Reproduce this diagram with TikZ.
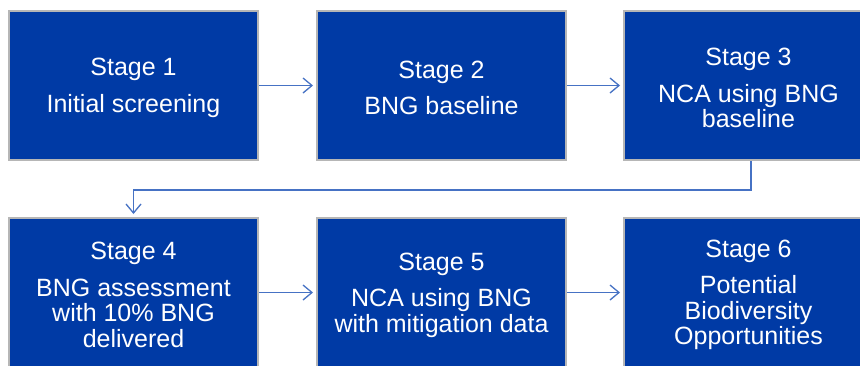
\documentclass[tikz,border=0pt]{standalone}
\usepackage{fontspec}
\setmainfont{Liberation Sans}
\usetikzlibrary{arrows.meta}
\definecolor{stageblue}{RGB}{0,58,165}
\definecolor{stageedge}{RGB}{182,182,182}
\definecolor{flowline}{RGB}{70,114,196}
% heading line of a stage box, with a strut that sets the text a touch lower
\newcommand{\stagehead}[1]{\rule{0pt}{22.5pt}Stage #1\\[11pt]}
\tikzset{
  stagebox/.style={draw=stageedge, line width=2pt, fill=stageblue,
    minimum width=249pt, minimum height=149pt, inner sep=0pt,
    text=white, align=center,
    font=\fontsize{25pt}{25.5pt}\selectfont},
  flow/.style={draw=flowline, line width=1.3pt,
    -{Straight Barb[length=9pt,width=15pt,line width=1.3pt]},
    shorten >=3pt}
}
\begin{document}
\begin{tikzpicture}[x=1pt,y=-1pt]
  \clip (0,0) rectangle (860,365);
  \fill[white] (0,0) rectangle (860,365);
  % top row
  \node[stagebox] (s1) at (133.5,85.5) {\stagehead{1}Initial screening};
  \node[stagebox] (s2) at (441.5,85.5) {\stagehead{2}BNG baseline};
  \node[stagebox] (s3) at (748.5,85.5) {\stagehead{3}NCA using BNG\\baseline};
  % bottom row
  \node[stagebox] (s4) at (133.5,292.5) {\stagehead{4}BNG assessment\\with 10\% BNG\\delivered};
  \node[stagebox] (s5) at (441.5,292.5) {\stagehead{5}NCA using BNG\\with mitigation data};
  \node[stagebox] (s6) at (748.5,292.5) {\stagehead{6}Potential\\Biodiversity\\Opportunities};
  % connectors
  \draw[flow] (s1.east) -- (s2.west);
  \draw[flow] (s2.east) -- (s3.west);
  \coordinate (bendR) at ([xshift=2.5pt]s3.south |- 0,190);
  \draw[flow] ([xshift=2.5pt]s3.south) -- (bendR) -- (bendR -| s4.north) -- (s4.north);
  \draw[flow] (s4.east) -- (s5.west);
  \draw[flow] (s5.east) -- (s6.west);
\end{tikzpicture}
\end{document}
